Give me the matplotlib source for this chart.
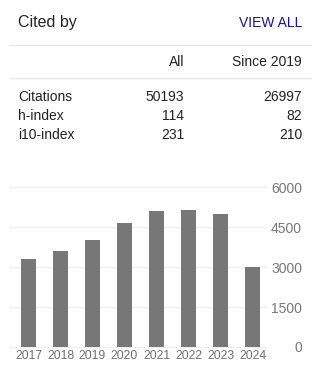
import matplotlib
matplotlib.use('Agg')
import matplotlib.pyplot as plt

plt.rcParams['font.family'] = ['Liberation Sans', 'DejaVu Sans']

# citation table
row_names = ['Citations', 'h-index', 'i10-index']
all_vals = ['50193', '114', '231']
since_vals = ['26997', '82', '210']
col_heads = ['All', 'Since 2019']

# citations per year
years = ['2017', '2018', '2019', '2020', '2021', '2022', '2023', '2024']
cites = [3300, 3600, 4010, 4650, 5100, 5140, 4990, 3000]
yticks = [0, 1500, 3000, 4500, 6000]

W, H = 327, 385
fig = plt.figure(figsize=(W / 100, H / 100), dpi=100)

def fx(x):
    return x / W

def fy(y):
    return 1 - y / H

txt = '#222222'

# header
fig.text(fx(18), fy(23), 'Cited by', fontsize=11.5, color=txt, va='center', ha='left')
fig.text(fx(302), fy(23), 'VIEW ALL', fontsize=10, color='#1a0dab', va='center', ha='right')
for yy in (45, 78):
    fig.add_artist(plt.Line2D([fx(10), fx(311)], [fy(yy), fy(yy)], color='#e8e8e8', lw=1))

fig.text(fx(184), fy(62), col_heads[0], fontsize=10, color=txt, va='center', ha='right')
fig.text(fx(302), fy(62), col_heads[1], fontsize=10, color=txt, va='center', ha='right')

for i, name in enumerate(row_names):
    yy = 97 + i * 19
    fig.text(fx(18), fy(yy), name, fontsize=10, color=txt, va='center', ha='left')
    fig.text(fx(184), fy(yy), all_vals[i], fontsize=10, color=txt, va='center', ha='right')
    fig.text(fx(302), fy(yy), since_vals[i], fontsize=10, color=txt, va='center', ha='right')

# bar chart
left, right, top, bottom = 10, 266, 187.3, 347
ax = fig.add_axes([fx(left), fy(bottom), (right - left) / W, (bottom - top) / H])
xs = list(range(len(years)))
ax.bar(xs, cites, width=15 / 32, color='#777777', zorder=2)
ax.set_xlim(-18.5 / 32, 7 + 13.5 / 32)
ax.set_ylim(0, 6000)
for v in yticks:
    ax.axhline(v, color='#eeeeee', lw=1, zorder=1, clip_on=False)
for s in ax.spines.values():
    s.set_visible(False)
ax.set_xticks(xs)
ax.set_xticklabels(years, fontsize=8.7, color='#6f6f6f')
ax.tick_params(axis='x', length=0, pad=2)
ax.yaxis.tick_right()
ax.set_yticks(yticks)
ax.set_yticklabels([str(v) for v in yticks], fontsize=10, color='#777777', ha='right')
ax.tick_params(axis='y', length=0, pad=26)
ax.patch.set_alpha(0)

fig.savefig('out.png', dpi=100, facecolor='white')
